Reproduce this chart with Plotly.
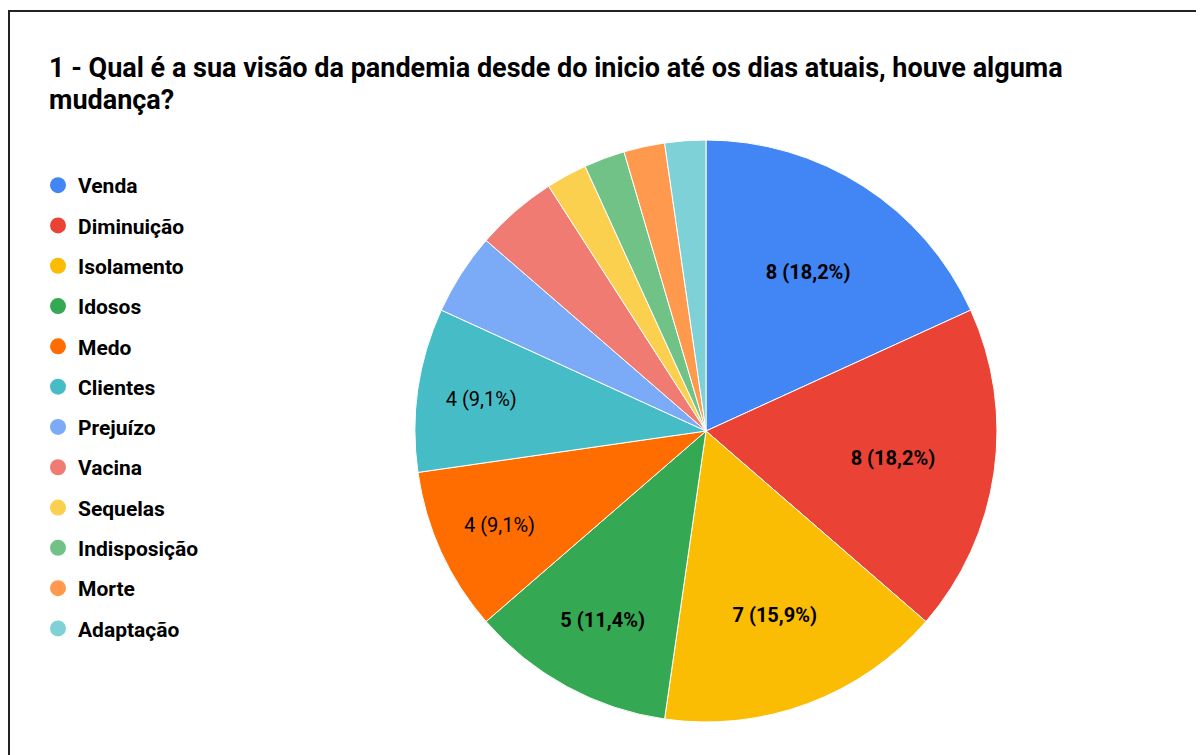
import plotly.graph_objects as go

categories = ["Venda", "Diminuição", "Isolamento", "Idosos", "Medo", "Clientes",
              "Prejuízo", "Vacina", "Sequelas", "Indisposição", "Morte", "Adaptação"]
values = [8, 8, 7, 5, 4, 4, 2, 2, 1, 1, 1, 1]
colors = ["#4285F4", "#EA4335", "#FBBC04", "#34A853", "#FF6D01", "#46BDC6",
          "#7BAAF7", "#F07B72", "#FCD04F", "#71C287", "#FF994D", "#7ED1D7"]
bold_labels = [True, True, True, True, False, False, False, False, False, False, False, False]
title_lines = ["1 - Qual é a sua visão da pandemia desde do inicio até os dias atuais, houve alguma",
               "mudança?"]

# page body has an 8px margin; work in screen coords and shift
OX, OY = 8, 8
W, H = 1204 - OX, 755 - OY


def px(x):
    return (x - OX) / W


def py(y):
    return 1 - (y - OY) / H


total = sum(values)
texts = []
positions = []
for v, b in zip(values, bold_labels):
    pct = f"{v / total * 100:.1f}".replace(".", ",")
    s = f"{v} ({pct}%)"
    if v / total < 0.08:
        texts.append("")
        positions.append("none")
    else:
        texts.append(f"<b>{s}</b>" if b else s)
        positions.append("inside")

cx, cy, r = 706, 431, 291
fig = go.Figure()
fig.add_trace(go.Pie(
    labels=categories, values=values, text=texts, textinfo="text",
    textposition=positions, insidetextorientation="horizontal",
    marker=dict(colors=colors, line=dict(color="white", width=1)),
    sort=False, direction="clockwise", rotation=0, showlegend=False,
    textfont=dict(family="Roboto", size=20, color="#000000"),
    domain=dict(x=[px(cx - r), px(cx + r)], y=[py(cy + r), py(cy - r)]),
))
for i, (c, col) in enumerate(zip(categories, colors)):
    fig.add_trace(go.Scatter(x=[None], y=[None], mode="markers", name=c,
                             legendgroup=str(i),
                             marker=dict(symbol="circle", size=16, color=col)))

for txt, yy in zip(title_lines, [68, 100]):
    fig.add_annotation(text=f"<b>{txt}</b>", x=px(47), y=py(yy), xref="paper", yref="paper",
                       xanchor="left", yanchor="middle", showarrow=False,
                       font=dict(family="Roboto", size=27, color="#000"))

fig.add_shape(type="line", xref="paper", yref="paper", x0=px(8), x1=1.01, y0=py(11), y1=py(11),
              line=dict(color="#222", width=2))
fig.add_shape(type="line", xref="paper", yref="paper", x0=px(8) + 1 / W, x1=px(8) + 1 / W,
              y0=-0.01, y1=py(11), line=dict(color="#222", width=2))

fig.update_layout(
    width=W, height=H, margin=dict(l=0, r=0, t=0, b=0),
    paper_bgcolor="white", plot_bgcolor="white",
    xaxis=dict(visible=False), yaxis=dict(visible=False),
    legend=dict(x=px(38), y=py(165), xanchor="left", yanchor="top",
                font=dict(family="Roboto", size=21, color="#000", weight="bold"),
                tracegroupgap=10, itemsizing="trace", bgcolor="rgba(0,0,0,0)"),
    showlegend=True,
)
fig.write_html("out.html")
